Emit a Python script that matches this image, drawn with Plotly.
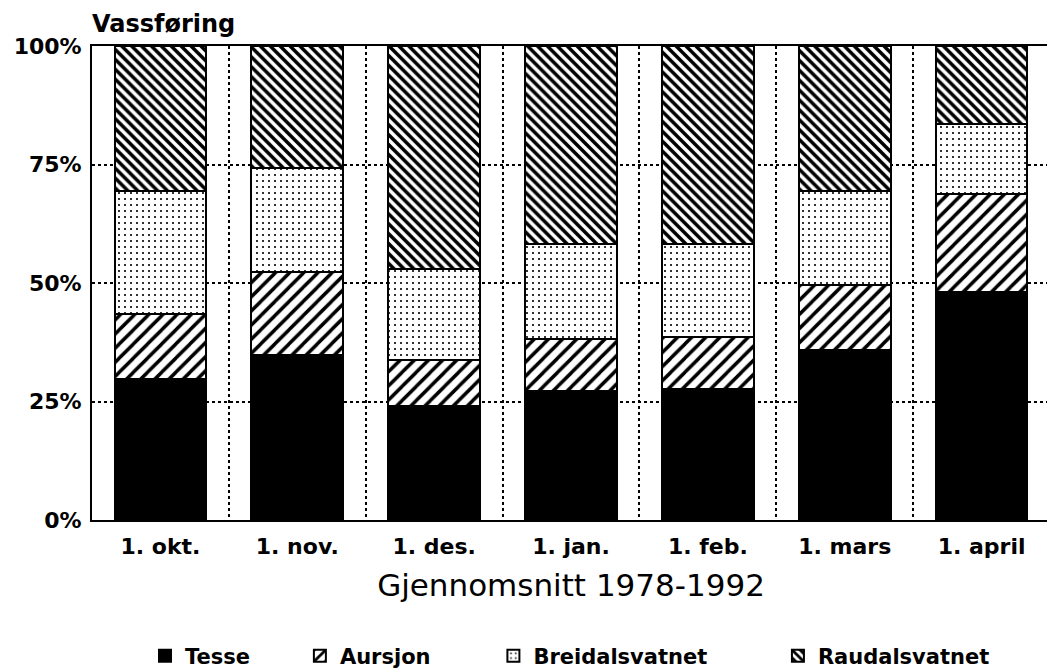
import plotly.graph_objects as go

categories = ["1. okt.", "1. nov.", "1. des.", "1. jan.", "1. feb.", "1. mars", "1. april"]
tesse = [29.7, 34.9, 24.1, 27.3, 27.6, 35.8, 48.1]
aursjon = [13.8, 17.5, 9.7, 10.9, 11.0, 13.7, 20.7]
breidalsvatnet = [25.9, 21.9, 19.2, 20.1, 19.6, 19.9, 14.8]
raudalsvatnet = [30.6, 25.7, 47.0, 41.7, 41.8, 30.6, 16.4]
y_ticks = [0, 25, 50, 75, 100]
y_ticklabels = ["0%", "25%", "50%", "75%", "100%"]

font_main = "DejaVu Sans"

fig = go.Figure()
series = [
    ("Tesse", tesse, dict(color="black"), "legend", 0.0553),
    ("Aursjon", aursjon, dict(color="white", pattern=dict(shape="/", fgcolor="black", bgcolor="white",
                                                           fgopacity=1, size=10, solidity=0.35)), "legend2", 0.217),
    ("Breidalsvatnet", breidalsvatnet, dict(color="white", pattern=dict(shape=".", fgcolor="black", bgcolor="white",
                                                                         fgopacity=1, size=6, solidity=0.1)), "legend3", 0.419),
    ("Raudalsvatnet", raudalsvatnet, dict(color="white", pattern=dict(shape="\\", fgcolor="black", bgcolor="white",
                                                                       fgopacity=1, size=7, solidity=0.5)), "legend4", 0.716),
]
legend_layout = {}
for name, vals, mk, leg, lx in series:
    mk = dict(mk)
    mk["line"] = dict(color="black", width=2)
    fig.add_trace(go.Bar(x=categories, y=vals, name="<b>%s</b>" % name, marker=mk, legend=leg, showlegend=True))
    legend_layout[leg] = dict(orientation="h", x=lx, xanchor="left", y=-0.287, yanchor="middle",
                              font=dict(size=21, family=font_main, color="black"),
                              bgcolor="rgba(0,0,0,0)", visible=True)

fig.update_layout(
    barmode="stack",
    bargap=0.33,
    showlegend=True,
    width=1047, height=662,
    margin=dict(l=84, r=5, t=38, b=150, autoexpand=False),
    paper_bgcolor="white", plot_bgcolor="white",
    font=dict(family=font_main, color="black"),
    title=dict(text="<b>Vassføring</b>", font=dict(size=24, family=font_main, color="black"),
               xref="paper", x=0, xanchor="left", yref="container", y=1 - 16 / 662, yanchor="middle"),
    **legend_layout,
)
fig.update_xaxes(
    type="category", tickson="boundaries", showgrid=True, griddash="dot", gridcolor="black", gridwidth=1.5,
    showline=True, linecolor="black", linewidth=2, mirror=True, ticks="", automargin=False,
    tickfont=dict(size=22, family=font_main, color="black"), ticklabelstandoff=6,
    tickprefix="<b>", ticksuffix="</b>",
    title=dict(text="Gjennomsnitt 1978-1992", font=dict(size=31, family=font_main, color="black"), standoff=16),
)
fig.update_yaxes(
    range=[0, 100], tickvals=y_ticks, ticktext=["<b>%s</b>" % t for t in y_ticklabels],
    showgrid=True, griddash="dot", gridcolor="black", gridwidth=1.5, automargin=False,
    showline=True, linecolor="black", linewidth=2, ticks="", zeroline=False,
    tickfont=dict(size=22, family=font_main, color="black"), ticklabelstandoff=4,
)
fig.write_html("out.html")
